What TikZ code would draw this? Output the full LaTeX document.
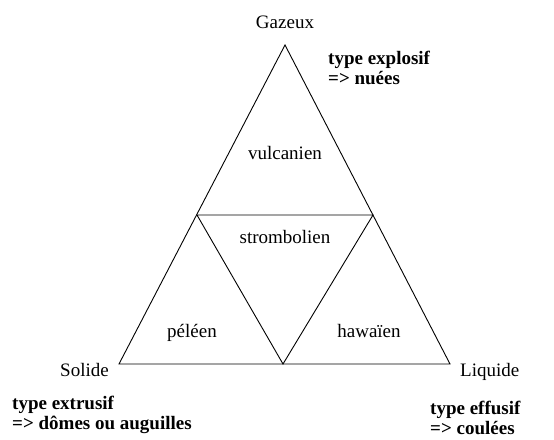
\documentclass[tikz,border=0pt]{standalone}
\usepackage{fontspec}
\setmainfont{Liberation Serif}
\usetikzlibrary{positioning}
\tikzstyle{corner}=[inner sep=0pt, font=\fontsize{19}{20}\selectfont]
\tikzstyle{regime}=[inner sep=0pt, font=\fontsize{19}{20}\selectfont]
\tikzstyle{remark}=[inner sep=0pt, align=left, anchor=west, font=\fontsize{19}{20}\selectfont\bfseries]
\tikzstyle{side}=[draw=black, line width=0.9pt]

\begin{document}
\begin{tikzpicture}[x=1pt, y=-1pt]
\useasboundingbox (0,0) rectangle (554,439);

% sommets du grand triangle
\coordinate (top) at (285,45);
\coordinate (leftcorner) at (119,364);
\coordinate (rightcorner) at (450,364);
% milieux
\coordinate (leftmid) at (197,215);
\coordinate (rightmid) at (373,215);
\coordinate (bottommid) at (283,364);

\path[side] (top) -- (leftcorner) -- (rightcorner) -- cycle;
\path[side] (leftmid) -- (rightmid) -- (bottommid) -- cycle;

\node[corner](Gazeux) at (285,22){Gazeux};
\node[corner](Solide)[left=10pt of leftcorner, yshift=-6pt]{Solide};
\node[corner](Liquide)[right=10pt of rightcorner, yshift=-8pt]{Liquide};

\node[regime](vulcanien) at (285,153){vulcanien};
\node[regime](strombolien) at (285,237){strombolien};
\node[regime](peleen) at (192,333){péléen};
\node[regime](hawaien) at (369,331){hawaïen};

\node[remark](explosif) at (328,68){type explosif\\=> nuées};
\node[remark](extrusif) at (12,415){type extrusif\\=> dômes ou auguilles};
\node[remark](effusif) at (430,418){type effusif\\=> coulées};

\end{tikzpicture}
\end{document}
